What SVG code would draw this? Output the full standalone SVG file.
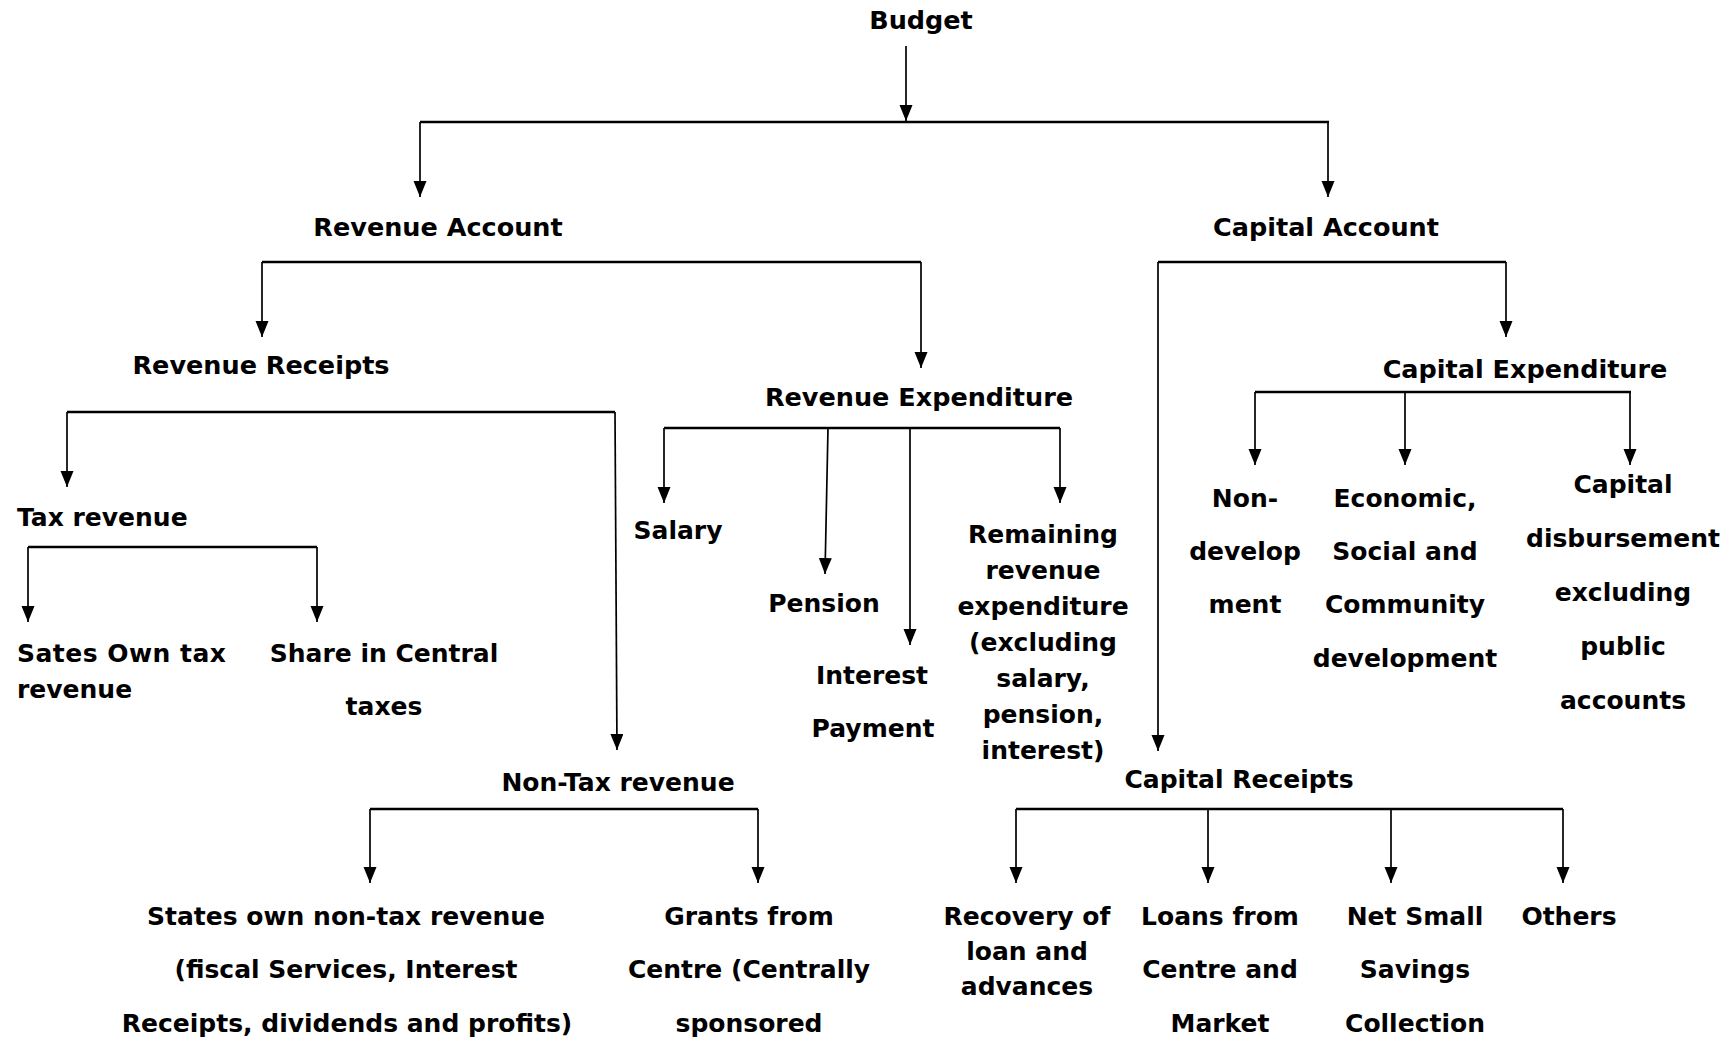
<svg xmlns="http://www.w3.org/2000/svg" width="1727" height="1041" viewBox="0 0 1727 1041">
<style>
text{font-family:"DejaVu Sans","Liberation Sans",sans-serif;font-weight:bold;font-size:25px;fill:#000}
.m{text-anchor:middle}
.h{font-size:25.5px}
.bar{stroke:#000;stroke-width:2.5;fill:none}
.drop{stroke:#000;stroke-width:1.7;fill:none;marker-end:url(#ah)}
</style>
<defs>
<marker id="ah" markerUnits="userSpaceOnUse" markerWidth="17" markerHeight="14" refX="16" refY="6.5" orient="auto">
<path d="M0,0 L16,6.5 L0,13 z" fill="#000"/>
</marker>
</defs>
<rect width="1727" height="1041" fill="#fff"/>
<g id="connectors">
<line class="drop" x1="906" y1="46" x2="906" y2="121"/>
<line class="bar" x1="420" y1="122" x2="1329" y2="122"/>
<line class="drop" x1="420" y1="122" x2="420" y2="197"/>
<line class="drop" x1="1328" y1="122" x2="1328" y2="197"/>
<line class="bar" x1="262" y1="262" x2="921" y2="262"/>
<line class="drop" x1="262" y1="262" x2="262" y2="337"/>
<line class="drop" x1="921" y1="262" x2="921" y2="368"/>
<line class="bar" x1="1158" y1="262" x2="1506" y2="262"/>
<line class="drop" x1="1158" y1="262" x2="1158" y2="751"/>
<line class="drop" x1="1506" y1="262" x2="1506" y2="337"/>
<line class="bar" x1="67" y1="412" x2="615" y2="412"/>
<line class="drop" x1="67" y1="412" x2="67" y2="487"/>
<line class="drop" x1="615" y1="412" x2="617" y2="750"/>
<line class="bar" x1="664" y1="428" x2="1060" y2="428"/>
<line class="drop" x1="664" y1="428" x2="664" y2="503"/>
<line class="drop" x1="828" y1="428" x2="825" y2="574"/>
<line class="drop" x1="910" y1="428" x2="910" y2="645"/>
<line class="drop" x1="1060" y1="428" x2="1060" y2="503"/>
<line class="bar" x1="1255" y1="392" x2="1631" y2="392"/>
<line class="drop" x1="1255" y1="392" x2="1255" y2="465"/>
<line class="drop" x1="1405" y1="392" x2="1405" y2="465"/>
<line class="drop" x1="1630" y1="392" x2="1630" y2="465"/>
<line class="bar" x1="28" y1="547" x2="317" y2="547"/>
<line class="drop" x1="28" y1="547" x2="28" y2="622"/>
<line class="drop" x1="317" y1="547" x2="317" y2="622"/>
<line class="bar" x1="370" y1="809" x2="758" y2="809"/>
<line class="drop" x1="370" y1="809" x2="370" y2="883"/>
<line class="drop" x1="758" y1="809" x2="758" y2="883"/>
<line class="bar" x1="1016" y1="809" x2="1563" y2="809"/>
<line class="drop" x1="1016" y1="809" x2="1016" y2="883"/>
<line class="drop" x1="1208" y1="809" x2="1208" y2="883"/>
<line class="drop" x1="1391" y1="809" x2="1391" y2="883"/>
<line class="drop" x1="1563" y1="809" x2="1563" y2="883"/>
</g>
<g id="budget"><text class="m h" x="921" y="29">Budget</text></g>
<g id="revenue-account"><text class="m h" x="438" y="236">Revenue Account</text></g>
<g id="capital-account"><text class="m h" x="1326" y="236">Capital Account</text></g>
<g id="revenue-receipts"><text class="m h" x="261" y="374">Revenue Receipts</text></g>
<g id="revenue-expenditure"><text class="m h" x="919" y="406">Revenue Expenditure</text></g>
<g id="capital-expenditure"><text class="m h" x="1525" y="378">Capital Expenditure</text></g>
<g id="tax-revenue"><text x="17" y="526">Tax revenue</text></g>
<g id="states-own-tax"><text x="17" y="662" textLength="209" lengthAdjust="spacing">Sates Own tax</text><text x="17" y="698">revenue</text></g>
<g id="share-central"><text class="m" x="384" y="662">Share in Central</text><text class="m" x="384" y="715">taxes</text></g>
<g id="salary"><text class="m" x="678" y="539">Salary</text></g>
<g id="pension"><text class="m" x="824" y="612">Pension</text></g>
<g id="interest-payment"><text class="m" x="872" y="684">Interest</text><text class="m" x="873" y="737">Payment</text></g>
<g id="remaining"><text class="m" x="1043" y="543">Remaining</text><text class="m" x="1043" y="579">revenue</text><text class="m" x="1043" y="615">expenditure</text><text class="m" x="1043" y="651">(excluding</text><text class="m" x="1043" y="687">salary,</text><text class="m" x="1043" y="723">pension,</text><text class="m" x="1043" y="759">interest)</text></g>
<g id="non-development"><text class="m" x="1245" y="507">Non-</text><text class="m" x="1245" y="560">develop</text><text class="m" x="1245" y="613">ment</text></g>
<g id="economic"><text class="m" x="1405" y="507">Economic,</text><text class="m" x="1405" y="560">Social and</text><text class="m" x="1405" y="613">Community</text><text class="m" x="1405" y="667">development</text></g>
<g id="capital-disbursement"><text class="m" x="1623" y="493">Capital</text><text class="m" x="1623" y="547">disbursement</text><text class="m" x="1623" y="601">excluding</text><text class="m" x="1623" y="655">public</text><text class="m" x="1623" y="709">accounts</text></g>
<g id="non-tax-revenue"><text class="m" x="618" y="791">Non-Tax revenue</text></g>
<g id="capital-receipts"><text class="m" x="1239" y="788">Capital Receipts</text></g>
<g id="states-own-non-tax"><text class="m" x="346" y="925">States own non-tax revenue</text><text class="m" x="346" y="978">(fiscal Services, Interest</text><text class="m" x="347" y="1032">Receipts, dividends and profits)</text></g>
<g id="grants"><text class="m" x="749" y="925">Grants from</text><text class="m" x="749" y="978">Centre (Centrally</text><text class="m" x="749" y="1032">sponsored</text></g>
<g id="recovery"><text class="m" x="1027" y="925">Recovery of</text><text class="m" x="1027" y="960">loan and</text><text class="m" x="1027" y="995">advances</text></g>
<g id="loans"><text class="m" x="1220" y="925">Loans from</text><text class="m" x="1220" y="978">Centre and</text><text class="m" x="1220" y="1032">Market</text></g>
<g id="net-small-savings"><text class="m" x="1415" y="925">Net Small</text><text class="m" x="1415" y="978">Savings</text><text class="m" x="1415" y="1032">Collection</text></g>
<g id="others"><text class="m" x="1569" y="925">Others</text></g>
</svg>
